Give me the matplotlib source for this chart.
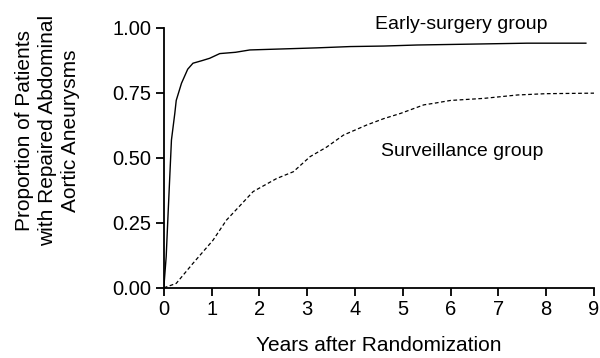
import matplotlib
matplotlib.use("Agg")
import matplotlib.pyplot as plt

plt.rcParams['font.family'] = ['Liberation Sans', 'DejaVu Sans']

# early-surgery group (years, proportion repaired)
early_years = [0.0, 0.05, 0.09, 0.16, 0.23, 0.26, 0.37, 0.5, 0.61, 0.8, 0.96,
               1.17, 1.5, 1.8, 2.5, 3.2, 3.9, 4.6, 5.3, 6.3, 7.6, 8.83]
early_prop = [0.0, 0.12, 0.286, 0.568, 0.67, 0.72, 0.786, 0.84, 0.863, 0.873, 0.882,
              0.90, 0.905, 0.914, 0.918, 0.922, 0.927, 0.929, 0.933, 0.936, 0.94, 0.94]

# surveillance group
surv_years = [0.0, 0.26, 0.61, 1.03, 1.31, 1.87, 2.36, 2.71, 3.06, 3.4, 3.76, 4.25,
              4.6, 4.95, 5.44, 5.65, 6.0, 6.7, 7.4, 8.0, 9.0]
surv_prop = [0.0, 0.017, 0.094, 0.183, 0.26, 0.37, 0.42, 0.446, 0.504, 0.54, 0.587, 0.626,
             0.65, 0.67, 0.703, 0.709, 0.72, 0.728, 0.741, 0.746, 0.748]

x_ticks = list(range(0, 10))
y_ticks = [0.0, 0.25, 0.5, 0.75, 1.0]
y_tick_labels = ["0.00", "0.25", "0.50", "0.75", "1.00"]

fig = plt.figure(figsize=(6, 3.58), dpi=100)
ax = fig.add_axes([0.273, 0.196, 0.717, 0.727])

ax.plot(early_years, early_prop, color='black', lw=1.0)
ax.plot(surv_years, surv_prop, color='black', lw=0.9, linestyle=(0, (3, 2)))

ax.text(6.23, 1.01, "Early-surgery group", fontsize=14, ha='center', va='center')
ax.text(6.25, 0.522, "Surveillance group", fontsize=14, ha='center', va='center')

ax.set_xlim(0, 9)
ax.set_ylim(0, 1.0)
ax.set_xticks(x_ticks)
ax.set_yticks(y_ticks)
ax.set_yticklabels(y_tick_labels)
ax.tick_params(direction='out', length=6, width=1.3, labelsize=14.5, color='black', pad=3)
for side in ['top', 'right']:
    ax.spines[side].set_visible(False)
for side in ['left', 'bottom']:
    ax.spines[side].set_linewidth(1.3)

ax.set_xlabel("Years after Randomization", fontsize=15, labelpad=12)
ax.set_ylabel("Proportion of Patients\nwith Repaired Abdominal\nAortic Aneurysms",
              fontsize=15, linespacing=1.25, ha='center', va='center')
ax.yaxis.set_label_coords(-0.27, 0.605)

fig.savefig("out.png", dpi=100)
